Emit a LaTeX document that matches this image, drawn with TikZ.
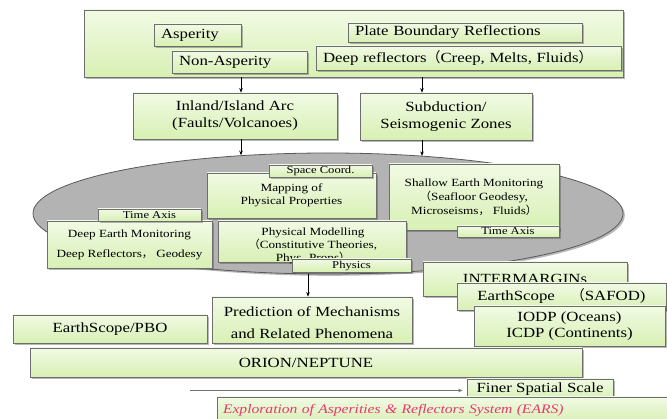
\documentclass[tikz,border=0pt]{standalone}
\usepackage{fontspec}
\setmainfont{Liberation Serif}[FakeStretch=1.2]
\newfontfamily\cjkfont{Noto Sans CJK SC}
\usetikzlibrary{shapes.geometric,shadows,arrows.meta}
\definecolor{boxtop}{HTML}{F1FAE4}
\definecolor{boxbot}{HTML}{D8F0B4}
\definecolor{boxline}{HTML}{6E6E6E}
\definecolor{ellfill}{HTML}{B3B3B3}
\definecolor{earspink}{HTML}{E8386C}
\newcommand{\fwl}{{\cjkfont （}}
\newcommand{\fwr}{{\cjkfont ）}}
\newcommand{\fwc}{{\cjkfont ，}}
\begin{document}
\begin{tikzpicture}[x=1pt,y=-1pt,
  gbox/.style={draw=boxline, line width=0.8pt, top color=boxtop, bottom color=boxbot,
    drop shadow={shadow xshift=1.8pt, shadow yshift=-1.8pt, opacity=0.4, fill=black!70},
    inner sep=0pt, align=center, font=\fontsize{14}{17}\selectfont},
  lbox/.style={gbox, align=left, inner xsep=7pt},
  smallf/.style={font=\fontsize{11}{13}\selectfont},
  tinyf/.style={font=\fontsize{10.5}{12}\selectfont},
  arr/.style={-{Stealth[length=4.5pt,width=3.5pt]}, line width=0.6pt}
]
\useasboundingbox (0,0) rectangle (667,419);
\clip (0,0) rectangle (667,419);

% top block
\node[gbox, minimum width=539pt, minimum height=67pt] (top) at (353.5,43.5) {};
\node[lbox, minimum width=87pt, minimum height=22pt, text width=73pt] (asp) at (197.5,35) {Asperity};
\node[lbox, minimum width=135pt, minimum height=22pt, text width=121pt] (nonasp) at (239.5,62) {Non-Asperity};
\node[lbox, minimum width=234pt, minimum height=19pt, text width=220pt] (pbr) at (465,32.5) {Plate Boundary Reflections};
\node[lbox, minimum width=305pt, minimum height=24pt, text width=291pt] (deep) at (468.5,58) {Deep reflectors\fwl Creep, Melts, Fluids\fwr};

% second row
\node[gbox, minimum width=204pt, minimum height=46pt] (inland) at (235,116) {Inland/Island Arc\\(Faults/Volcanoes)};
\node[gbox, minimum width=172pt, minimum height=47pt] (subd) at (446,116.5) {Subduction/\\Seismogenic Zones};

% ellipse
\node[ellipse, draw=black!65, line width=0.8pt, fill=ellfill, minimum width=590pt, minimum height=121pt, inner sep=0pt,
  drop shadow={shadow xshift=1.8pt, shadow yshift=-1.8pt, opacity=0.4, fill=black!70}] (ell) at (328,213.5) {};

\node[gbox, smallf, minimum width=169pt, minimum height=45pt] (map) at (291.5,195.5) {Mapping of\\Physical Properties};
\node[gbox, tinyf, minimum width=103pt, minimum height=12pt] (spc) at (320.5,171) {Space Coord.};
\node[gbox, font=\fontsize{11}{14}\selectfont, minimum width=170pt, minimum height=66pt] (shal) at (474,197) {Shallow Earth Monitoring\\\fwl Seafloor Geodesy,\\Microseisms\fwc\ Fluids\fwr};
\node[gbox, tinyf, minimum width=102pt, minimum height=11pt] (ta2) at (508,231.5) {Time Axis};
\node[gbox, smallf, minimum width=165pt, minimum height=47pt] (dem) at (129.5,244.5) {Deep Earth Monitoring\\[7pt]Deep Reflectors\fwc\ Geodesy};
\node[gbox, tinyf, minimum width=103pt, minimum height=12pt] (ta1) at (149.5,215) {Time Axis};
\node[gbox, minimum width=188pt, minimum height=41pt] (pm) at (312,241.5) {};
\node[smallf, align=center, inner sep=0pt] (pmtext) at (313,245.5) {Physical Modelling\\\fwl Constitutive Theories,\\Phys. Props\fwr};
\node[gbox, tinyf, minimum width=119pt, minimum height=13pt] (phys) at (351.5,265.5) {Physics};

% right stack
\node[gbox, minimum width=204pt, minimum height=34pt] (inter) at (525,279) {INTERMARGINs};
\node[gbox, minimum width=209pt, minimum height=27pt] (safod) at (561.5,296.5) {EarthScope\hspace{16pt}\fwl SAFOD)};
\node[gbox, font=\fontsize{14}{16}\selectfont, minimum width=191pt, minimum height=40pt] (iodp) at (569.5,326) {IODP (Oceans)\\ICDP (Continents)};

% lower boxes
\node[gbox, minimum width=200pt, minimum height=46pt] (pred) at (312,320) {\rule{0pt}{16pt}Prediction of Mechanisms\\[5pt]and Related Phenomena};
\node[gbox, minimum width=194pt, minimum height=28pt] (pbo) at (110,329) {EarthScope/PBO};
\node[gbox, minimum width=552pt, minimum height=29pt] (orion) at (306,362.5) {ORION/NEPTUNE};
\node[gbox, minimum width=146pt, minimum height=21pt] (fss) at (540,389.5) {Finer Spatial Scale};
\node[lbox, inner xsep=6pt, minimum width=463pt, minimum height=26pt, text width=451pt, text=earspink, font=\fontsize{13}{16}\selectfont\itshape] (ears) at (448.5,410) {Exploration of Asperities \& Reflectors System (EARS)};

% connectors
\coordinate (c1) at (241,0);
\coordinate (c2) at (422,0);
\coordinate (c3) at (308,0);
\coordinate (c4) at (190,390.5);
\draw[arr] (top.south -| c1) -- (inland.north -| c1);
\draw[arr] (top.south -| c2) -- (subd.north -| c2);
\draw[arr] (inland.south -| c1) -- (ell.146.6 -| c1);
\draw[arr] (subd.south -| c2) -- (ell.31.2 -| c2);
\draw[arr] (ell.south -| c3) -- (pred.north -| c3);
\draw[arr, draw=black!55, shorten >=4pt] (c4) -- (fss.west |- c4);
\end{tikzpicture}
\end{document}
